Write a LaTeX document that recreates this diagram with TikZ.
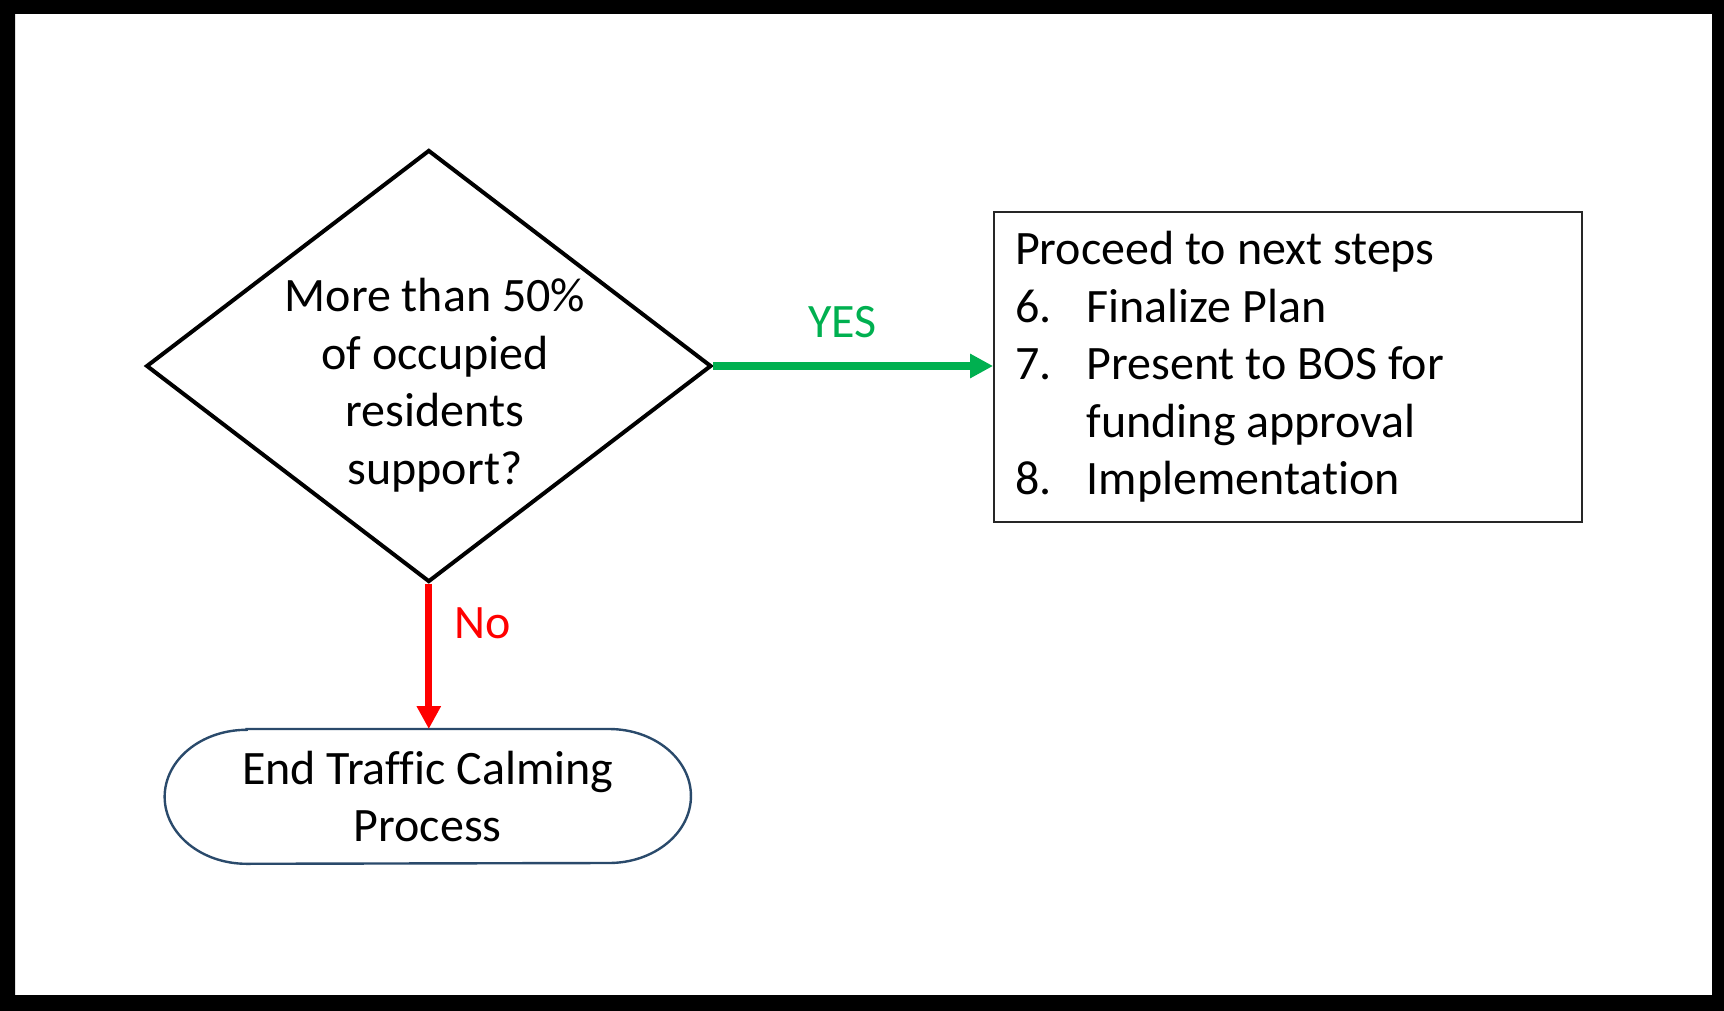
\documentclass[tikz,border=0pt]{standalone}
\usepackage{fontspec}
\setmainfont{Carlito}[Ligatures={NoCommon}]
\usetikzlibrary{arrows.meta}
\usetikzlibrary{shapes.geometric}
\definecolor{yesgreen}{HTML}{00B050}
\definecolor{termblue}{HTML}{2A4A6B}

\begin{document}
\begin{tikzpicture}[>={Triangle[length=11.5pt,width=11.5pt]},x=0.5pt,y=-0.5pt,
    txt/.style={font=\fontsize{24pt}{28.75pt}\selectfont},
    decision/.style={diamond,draw,line width=2pt,inner sep=0pt,minimum width=282.6pt,minimum height=216pt},
    stepsbox/.style={txt,draw=black!85,line width=0.9pt,align=flush left,text width=273pt,inner xsep=10.5pt,minimum height=155pt},
    flow/.style={->,line width=3.6pt}]
  \useasboundingbox (0,0) rectangle (1724,1011);
  % outer frame
  \fill[even odd rule] (0,0) rectangle (1724,1011) (15,14) rectangle (1712,995);
  \node[decision] (dec) at (428.8,366) {};
  \node[txt,align=center] (question) at (435,385) {More than 50\%\\of occupied\\residents\\support?};
  \node[stepsbox] (steps) at (1288,367) {Proceed to next steps\\
    \makebox[35.8pt][l]{6.}Finalize Plan\\
    \makebox[35.8pt][l]{7.}Present to BOS for\\
    \hspace*{35.8pt}funding approval\\
    \makebox[35.8pt][l]{8.}Implementation};
  \node[txt,minimum width=262.75pt,minimum height=67pt,inner sep=0pt,align=center] (term) at (427.8,796.4) {End Traffic Calming\\Process};
  \draw[termblue,line width=1.2pt] ([xshift=41pt]term.north west) -- ([xshift=-41pt]term.north east)
      arc[start angle=90,end angle=-90,x radius=41pt,y radius=33.5pt]
      -- ([xshift=41pt]term.south west)
      arc[start angle=270,end angle=90,x radius=41pt,y radius=33.5pt] -- cycle;
  % yes / no
  \draw[flow,yesgreen] (dec.east) -- (steps.west |- dec.east);
  \draw[flow,red] (dec.south) -- (dec.south |- term.north);
  \node[txt,yesgreen,anchor=base] (yes) at (842.5,337) {YES};
  \node[txt,red,anchor=base] (no) at (482.5,638.3) {No};
\end{tikzpicture}
\end{document}
